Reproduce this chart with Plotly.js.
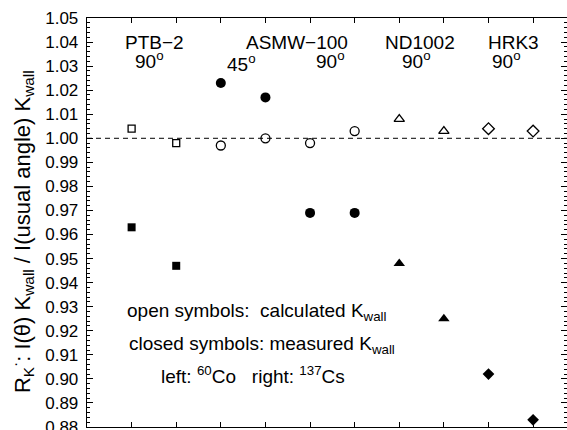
<!DOCTYPE html>
<html>
<head>
<meta charset="utf-8">
<script src="https://cdn.plot.ly/plotly-3.0.1.min.js"></script>
<style>html,body{margin:0;padding:0;background:#fff;}#chart{width:567px;height:430px;}</style>
</head>
<body>
<div id="chart"></div>
<script>
// positions 1..10: pairs (left: 60Co, right: 137Cs) per chamber/angle
const ptbX = [1, 2];
const ptbCalc = [1.004, 0.998];
const ptbMeas = [0.963, 0.947];

const asmwX = [3, 4, 5, 6];
const asmwCalc = [0.997, 1.000, 0.998, 1.003];
const asmwMeas = [1.023, 1.017, 0.969, 0.969];

const ndX = [7, 8];
const ndCalc = [1.008, 1.003];
const ndMeas = [0.948, 0.925];

const hrkX = [9, 10];
const hrkCalc = [1.004, 1.003];
const hrkMeas = [0.902, 0.883];

const refLine = 1.0;

const FONT = 'Liberation Sans, Arial, Helvetica, sans-serif';

function tr(x, y, symbol, size, filled) {
  return {
    x: x, y: y, type: 'scatter', mode: 'markers', showlegend: false, cliponaxis: false,
    marker: {
      symbol: symbol + (filled ? '' : '-open'), size: size, color: '#000',
      line: {color: '#000', width: filled ? 0 : 1.3}
    }
  };
}

const data = [
  tr(ptbX, ptbCalc, 'square', 7, false),
  tr(ptbX, ptbMeas, 'square', 8, true),
  tr(asmwX, asmwCalc, 'circle', 9, false),
  tr(asmwX, asmwMeas, 'circle', 10, true),
  tr(ndX, ndCalc, 'triangle-up', 9, false),
  tr(ndX, ndMeas, 'triangle-up', 10, true),
  tr(hrkX, hrkCalc, 'diamond', 9, false),
  tr(hrkX, hrkMeas, 'diamond', 9, true)
];

function lab(x, y, text, opts) {
  return Object.assign({x: x, y: y, xref: 'x', yref: 'y', text: text, showarrow: false,
    font: {family: FONT, size: 19, color: '#000'}, xanchor: 'center', yanchor: 'middle'}, opts || {});
}

const annotations = [
  lab(1.52, 1.0397, 'PTB\u22122'),
  lab(1.41, 1.0327, '90<sup>o</sup>'),
  lab(4.70, 1.0397, 'ASMW\u2212100'),
  lab(3.47, 1.0314, '45<sup>o</sup>'),
  lab(5.45, 1.0327, '90<sup>o</sup>'),
  lab(7.47, 1.0397, 'ND1002'),
  lab(7.39, 1.0327, '90<sup>o</sup>'),
  lab(9.55, 1.0397, 'HRK3'),
  lab(9.41, 1.0327, '90<sup>o</sup>'),
  lab(0.85, 0.928, 'open symbols:\u00a0\u00a0calculated K<sub>wall</sub>', {xanchor: 'left'}),
  lab(0.90, 0.914, 'closed symbols: measured K<sub>wall</sub>', {xanchor: 'left'}),
  lab(1.62, 0.9016, 'left: <sup>60</sup>Co\u00a0\u00a0 right: <sup>137</sup>Cs', {xanchor: 'left'}),
  {x: -0.135, y: 0.477, xref: 'paper', yref: 'paper', textangle: -90, showarrow: false,
   text: 'R<sub>K</sub><sup>\u00b7</sup>: I(\u03b8) K<sub>wall</sub> / I(usual angle) K<sub>wall</sub>',
   font: {family: FONT, size: 22, color: '#000'}, xanchor: 'center', yanchor: 'middle'}
];

const layout = {
  width: 567, height: 430,
  margin: {l: 87, r: 0, t: 18, b: 3, pad: 0},
  paper_bgcolor: '#fff', plot_bgcolor: '#fff',
  font: {family: FONT, size: 17, color: '#000'},
  xaxis: {
    range: [0, 10.76], showgrid: false, zeroline: false,
    showline: true, linecolor: '#000', linewidth: 1.3, mirror: 'ticks',
    ticks: 'inside', ticklen: 5, tickwidth: 1, tickcolor: '#000',
    tickmode: 'linear', tick0: 0, dtick: 1, showticklabels: false
  },
  yaxis: {
    range: [0.88, 1.05], showgrid: false, zeroline: false,
    showline: true, linecolor: '#000', linewidth: 1.3, mirror: 'ticks',
    ticks: 'inside', ticklen: 6, tickwidth: 1, tickcolor: '#000',
    tickmode: 'linear', tick0: 0.88, dtick: 0.01, tickformat: '.2f',
    ticklabeloverflow: 'allow', ticklabelstandoff: 4,
    tickfont: {family: FONT, size: 17, color: '#000'},
    minor: {dtick: 0.002, ticklen: 3, ticks: 'inside', tickcolor: '#000', tickwidth: 1}
  },
  shapes: [{type: 'line', xref: 'paper', yref: 'y', x0: 0, x1: 1, y0: refLine, y1: refLine,
            line: {color: '#000', width: 1, dash: '5px,4px'}}],
  annotations: annotations
};

Plotly.newPlot('chart', data, layout, {displayModeBar: false, staticPlot: true});
</script>
</body>
</html>
